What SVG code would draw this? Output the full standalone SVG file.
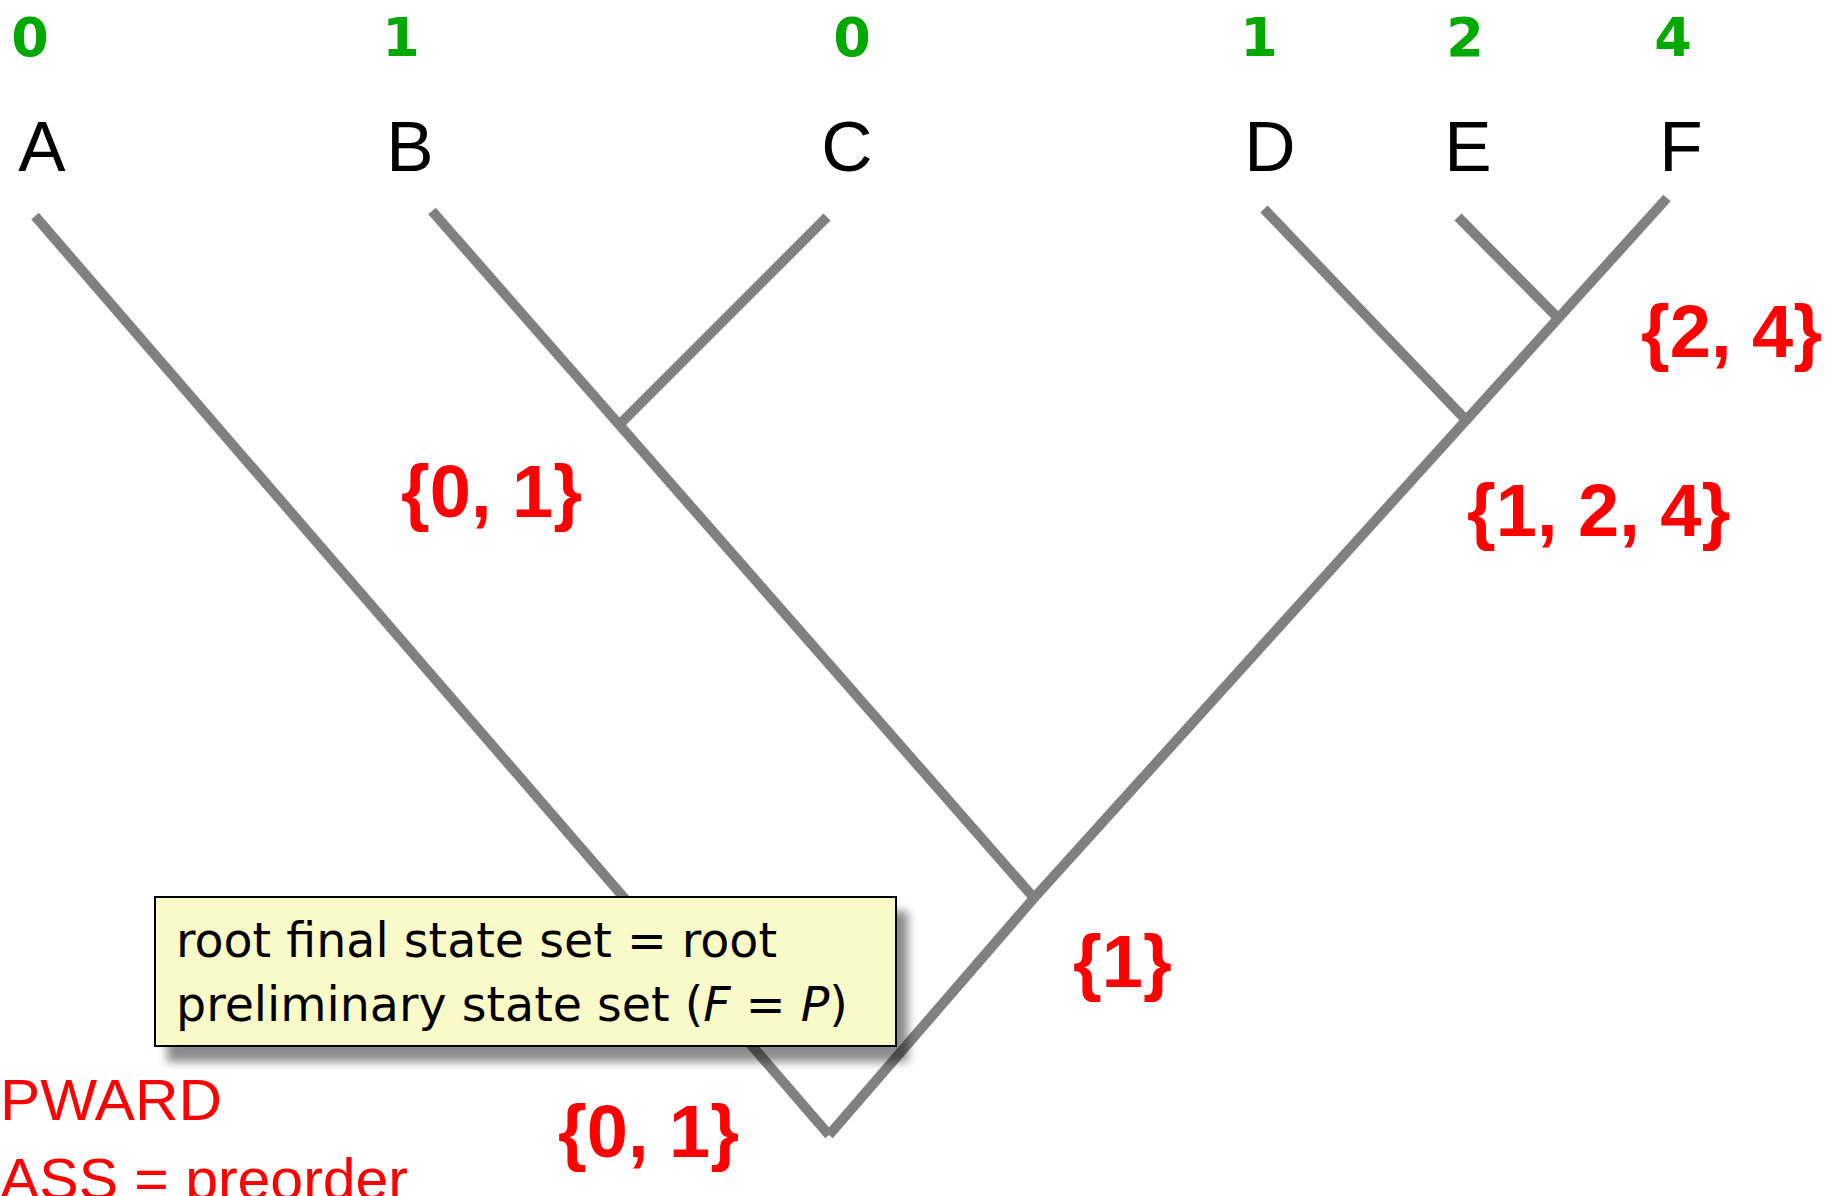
<svg xmlns="http://www.w3.org/2000/svg" width="1825" height="1196" viewBox="0 0 1825 1196">
  <defs>
    <filter id="shadow" x="-10%" y="-30%" width="120%" height="160%">
      <feGaussianBlur stdDeviation="5"/>
    </filter>
    <style>
      .branch { stroke: #808080; stroke-width: 10; stroke-linecap: butt; fill: none; }
      .taxon { font-family: "Liberation Sans Narrow", "Liberation Sans", sans-serif; font-size: 71px; fill: #000; text-anchor: middle; }
      .state { font-family: "DejaVu Sans", "Liberation Sans", sans-serif; font-weight: bold; font-size: 54px; fill: #00A800; text-anchor: middle; }
      .set { font-family: "Liberation Sans", Arial, sans-serif; font-weight: bold; font-size: 74px; fill: #FF0000; }
      .note { font-family: "DejaVu Sans", sans-serif; font-size: 47.5px; fill: #000; }
      .pass { font-family: "Liberation Sans", Arial, sans-serif; font-size: 58px; fill: #FF0000; }
    </style>
  </defs>

  <!-- tree branches -->
  <g id="connectors">
    <line class="branch" x1="35" y1="216" x2="829" y2="1135"/>
    <line class="branch" x1="432" y1="211" x2="1034" y2="898"/>
    <line class="branch" x1="827" y1="217" x2="620" y2="424"/>
    <line class="branch" x1="1034" y1="898" x2="829" y2="1135"/>
    <line class="branch" x1="1667" y1="198" x2="1034" y2="898"/>
    <line class="branch" x1="1264" y1="209" x2="1466" y2="420"/>
    <line class="branch" x1="1458" y1="217" x2="1558" y2="318"/>
  </g>

  <!-- leaves: observed state above taxon name -->
  <g id="leaf-A"><text class="state" x="30" y="56">0</text><text class="taxon" x="42" y="171">A</text></g>
  <g id="leaf-B"><text class="state" x="401" y="56">1</text><text class="taxon" x="410" y="171">B</text></g>
  <g id="leaf-C"><text class="state" x="852" y="56">0</text><text class="taxon" x="847" y="171">C</text></g>
  <g id="leaf-D"><text class="state" x="1259" y="56">1</text><text class="taxon" x="1270" y="171">D</text></g>
  <g id="leaf-E"><text class="state" x="1465" y="56">2</text><text class="taxon" x="1468" y="171">E</text></g>
  <g id="leaf-F"><text class="state" x="1673" y="56">4</text><text class="taxon" x="1681" y="171">F</text></g>

  <!-- internal node state sets -->
  <g id="node-BC"><text class="set" x="401" y="517">{0, 1}</text></g>
  <g id="node-EF"><text class="set" x="1641" y="357">{2, 4}</text></g>
  <g id="node-DEF"><text class="set" x="1467" y="536">{1, 2, 4}</text></g>
  <g id="node-BCDEF"><text class="set" x="1073" y="987">{1}</text></g>
  <g id="node-root"><text class="set" x="558" y="1157">{0, 1}</text></g>

  <!-- callout -->
  <g id="note">
    <rect x="167" y="911" width="741" height="151" fill="#000" opacity="0.45" filter="url(#shadow)"/>
    <rect x="155" y="897" width="741" height="149" fill="#FAFAC8" stroke="#000" stroke-width="2"/>
    <text class="note" x="176" y="957">root final state set = root</text>
    <text class="note" x="176" y="1021">preliminary state set (<tspan font-style="italic">F</tspan> = <tspan font-style="italic">P</tspan>)</text>
  </g>

  <!-- pass label -->
  <g id="pass-label">
    <text class="pass" x="0" y="1120" textLength="222" lengthAdjust="spacingAndGlyphs">PWARD</text>
    <text class="pass" x="0" y="1199" textLength="408" lengthAdjust="spacingAndGlyphs">ASS = preorder</text>
  </g>
</svg>
